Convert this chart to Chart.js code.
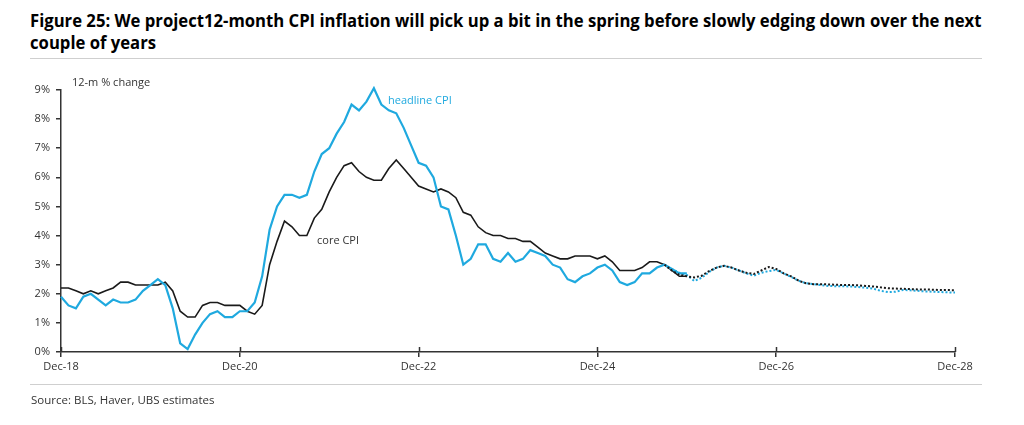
<!DOCTYPE html>
<html>
<head>
<meta charset="utf-8">
<script src="https://cdn.jsdelivr.net/npm/chart.js@4/dist/chart.umd.min.js"></script>
<style>
  html, body { margin: 0; padding: 0; background: #fff; }
  body { width: 1024px; height: 425px; position: relative; overflow: hidden; font-family: "Open Sans", "Noto Sans", sans-serif; }
  #title { position: absolute; left: 30px; top: 10px; font-weight: bold; font-size: 17px; line-height: 22px; color: #000; white-space: nowrap; transform-origin: left top; }
  .rule { position: absolute; left: 30px; width: 952px; height: 1px; background: #cfcfcf; }
  #src { position: absolute; left: 31px; top: 392px; font-size: 11.5px; color: #333; }
  .lbl { position: absolute; font-size: 11px; white-space: nowrap; }
  canvas { position: absolute; left: 0; top: 0; }
</style>
</head>
<body>
<div id="title">Figure 25: We project12-month CPI inflation will pick up a bit in the spring before slowly edging down over the next<br>couple of years</div>
<div class="rule" style="top:58px"></div>
<canvas id="c" width="1024" height="425"></canvas>
<div class="lbl" style="left:72px; top:74px; color:#333;">12-m % change</div>
<div class="lbl" style="left:388px; top:92px; color:#1fa9df;">headline CPI</div>
<div class="lbl" style="left:317px; top:232px; color:#333;">core CPI</div>
<div class="rule" style="top:384px"></div>
<div id="src">Source: BLS, Haver, UBS estimates</div>
<script>
// Monthly, Dec-18 ... Dec-25 (actual)
const headlineActual = [
  1.9,
  1.6,1.5,1.9,2.0,1.8,1.6,1.8,1.7,1.7,1.8,2.1,2.3,
  2.5,2.3,1.5,0.3,0.1,0.6,1.0,1.3,1.4,1.2,1.2,1.4,
  1.4,1.7,2.6,4.2,5.0,5.4,5.4,5.3,5.4,6.2,6.8,7.0,
  7.5,7.9,8.5,8.3,8.6,9.06,8.5,8.3,8.2,7.7,7.1,6.5,
  6.4,6.0,5.0,4.9,4.0,3.0,3.2,3.7,3.7,3.2,3.1,3.4,
  3.1,3.2,3.5,3.4,3.3,3.0,2.9,2.5,2.4,2.6,2.7,2.9,
  3.0,2.8,2.4,2.3,2.4,2.7,2.7,2.9,3.0,2.85,2.7,2.7
];
const coreActual = [
  2.2,
  2.2,2.1,2.0,2.1,2.0,2.1,2.2,2.4,2.4,2.3,2.3,2.3,
  2.3,2.4,2.1,1.4,1.2,1.2,1.6,1.7,1.7,1.6,1.6,1.6,
  1.4,1.3,1.6,3.0,3.8,4.5,4.3,4.0,4.0,4.6,4.9,5.5,
  6.0,6.4,6.5,6.2,6.0,5.9,5.9,6.3,6.6,6.3,6.0,5.7,
  5.6,5.5,5.6,5.5,5.3,4.8,4.7,4.3,4.1,4.0,4.0,3.9,
  3.9,3.8,3.8,3.6,3.4,3.3,3.2,3.2,3.3,3.3,3.3,3.2,
  3.3,3.1,2.8,2.8,2.8,2.9,3.1,3.1,3.0,2.8,2.6,2.6
];
// Forecast, Sep-25 ... Dec-28
const forecastStart = 81;
const headlineForecast = [
  3.0,2.85,2.72,2.65,
  2.44,2.55,2.75,2.9,2.96,2.9,2.8,2.7,2.62,2.72,2.78,2.82,
  2.7,2.58,2.45,2.36,2.33,2.3,2.27,2.26,2.26,2.25,2.23,2.21,
  2.18,2.1,2.06,2.07,2.13,2.12,2.1,2.08,2.07,2.06,2.05,2.04
];
const coreForecast = [
  3.0,2.8,2.65,2.6,
  2.56,2.62,2.78,2.9,2.96,2.9,2.8,2.72,2.68,2.8,2.92,2.85,
  2.7,2.6,2.45,2.36,2.33,2.33,2.32,2.31,2.3,2.3,2.29,2.27,
  2.25,2.22,2.19,2.18,2.17,2.16,2.15,2.15,2.14,2.13,2.13,2.12
];
const tickLabels = ["Dec-18","Dec-20","Dec-22","Dec-24","Dec-26","Dec-28"];
const yTicks = [0,1,2,3,4,5,6,7,8,9];

// category labels: months from Dec-18 to Dec-28
const monthNames = ["Jan","Feb","Mar","Apr","May","Jun","Jul","Aug","Sep","Oct","Nov","Dec"];
const nMonths = 121;
const labels = [];
for (let i = 0; i < nMonths; i++) {
  const m = (11 + i) % 12;
  const y = 18 + Math.floor((11 + i) / 12);
  labels.push(monthNames[m] + "-" + y);
}
function pad(arr, start) {
  const out = new Array(nMonths).fill(null);
  arr.forEach((v, i) => { out[start + i] = v; });
  return out;
}

// fit title width
(function(){
  const t = document.getElementById('title');
  const w = t.scrollWidth;
  const target = 951;
  t.style.transform = 'scaleX(' + (target / w) + ')';
})();

const blue = '#1fa9df';
const black = '#1a1a1a';

const crossTicks = {
  id: 'crossTicks',
  afterDraw(chart) {
    const xs = chart.scales.x;
    const ctx = chart.ctx;
    ctx.save();
    ctx.strokeStyle = '#333';
    ctx.lineWidth = 1.5;
    for (let i = 0; i < nMonths; i += 24) {
      const px = Math.round(xs.getPixelForValue(i)) + 0.5;
      ctx.beginPath();
      ctx.moveTo(px, xs.top - 5);
      ctx.lineTo(px, xs.top);
      ctx.stroke();
    }
    ctx.restore();
  }
};

new Chart(document.getElementById('c'), {
  type: 'line',
  data: {
    labels: labels,
    datasets: [
      { label: 'core CPI forecast', data: pad(coreForecast, forecastStart), borderColor: black, borderWidth: 2, borderDash: [2, 2], pointRadius: 0, tension: 0, spanGaps: false, clip: false },
      { label: 'headline CPI forecast', data: pad(headlineForecast, forecastStart), borderColor: blue, borderWidth: 2, borderDash: [2, 2], pointRadius: 0, tension: 0, spanGaps: false, clip: false },
      { label: 'headline CPI', data: pad(headlineActual, 0), borderColor: blue, borderWidth: 2.2, pointRadius: 0, tension: 0, clip: false },
      { label: 'core CPI', data: pad(coreActual, 0), borderColor: black, borderWidth: 1.6, pointRadius: 0, tension: 0, clip: false }
    ]
  },
  options: {
    responsive: false,
    animation: false,
    devicePixelRatio: 1,
    layout: { padding: { top: 90, right: 69, bottom: 53, left: 0 } },
    plugins: { legend: { display: false }, tooltip: { enabled: false } },
    scales: {
      x: {
        type: 'category',
        offset: false,
        border: { display: true, color: '#333', width: 1.5 },
        grid: { display: true, drawOnChartArea: false, drawTicks: true, tickLength: 5, color: '#333', lineWidth: 1.5 },
        ticks: {
          autoSkip: false, maxRotation: 0, padding: 3, color: '#333',
          font: { family: '"Open Sans", "Noto Sans", sans-serif', size: 11 },
          callback: function(v, i) { return (i % 24 === 0) ? tickLabels[i / 24] : null; }
        },
        afterFit: function(s) { s.height = 20; }
      },
      y: {
        min: 0, max: 9,
        border: { display: true, color: '#333', width: 1.5 },
        grid: { display: true, drawOnChartArea: false, drawTicks: true, tickLength: 5, color: '#333', lineWidth: 1.5 },
        afterBuildTicks: function(s) { s.ticks = yTicks.map(v => ({ value: v })); },
        ticks: {
          padding: 6, color: '#333',
          font: { family: '"Open Sans", "Noto Sans", sans-serif', size: 11 },
          callback: function(v) { return v + '%'; }
        },
        afterFit: function(s) { s.width = 61; }
      }
    }
  },
  plugins: [crossTicks]
});
</script>
</body>
</html>
